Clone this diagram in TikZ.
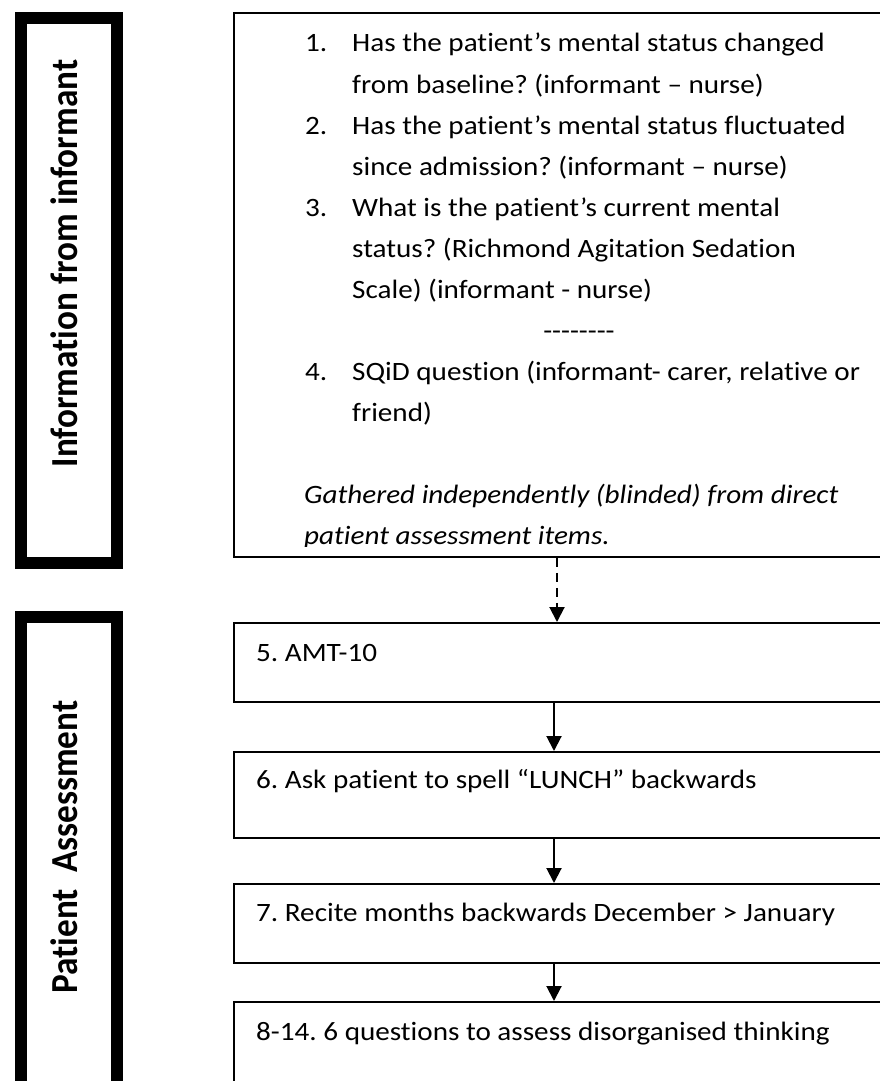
\documentclass[tikz,border=0pt]{standalone}
\usepackage{fontspec}
\usepackage{graphicx}
\setmainfont[Ligatures={TeX,NoCommon}]{Carlito}
\usetikzlibrary{arrows.meta}
\newcommand\hs[1]{\scalebox{1.1}[1]{#1}}
\newcommand\vs[1]{\scalebox{1}[1.086]{#1}}
\frenchspacing
\begin{document}
\begin{tikzpicture}[x=1pt,y=-1pt,
  sidebox/.style={draw, line width=12pt, rectangle, inner sep=0pt, anchor=north west},
  stepbox/.style={draw, line width=1.8pt, rectangle, inner sep=0pt, anchor=north west},
  txt/.style={anchor=base west, inner sep=0pt, font=\fontsize{26.5}{31}\selectfont},
  itxt/.style={txt, font=\fontsize{26.5}{31}\selectfont\itshape},
  lbl/.style={rotate=90, anchor=base, inner sep=0pt, font=\fontsize{35.2}{40}\selectfont\bfseries},
  arr/.style={line width=2pt, -{Triangle[width=15pt,length=15pt]}},
  darr/.style={arr, dash pattern=on 9pt off 6pt}]
\clip (0,0) rectangle (880,1081);
\fill[white] (0,0) rectangle (880,1081);

% side boxes
\node[sidebox, minimum width=96pt, minimum height=545pt] (side1) at (15,12) {};
\node[sidebox, minimum width=96pt, minimum height=472pt] (side2) at (15,611) {};
\node[lbl] (lab1) at (77,263.5) {\vs{Information from informant}};
\node[lbl] (lab2) at (77,847) {\vs{Patient\ \ Assessment}};

% informant box
\node[stepbox, minimum width=667pt, minimum height=544pt] (info) at (233,12) {};
\node[txt] (n1) at (305,52) {\hs{1.}};
\node[txt] (t1a) at (352,52) {\hs{Has the patient’s mental status changed}};
\node[txt] (t1b) at (352,93) {\hs{from baseline? (informant – nurse)}};
\node[txt] (n2) at (305,134) {\hs{2.}};
\node[txt] (t2a) at (352,134) {\hs{Has the patient’s mental status fluctuated}};
\node[txt] (t2b) at (352,175) {\hs{since admission? (informant – nurse)}};
\node[txt] (n3) at (305,216) {\hs{3.}};
\node[txt] (t3a) at (352,216) {\hs{What is the patient’s current mental}};
\node[txt] (t3b) at (352,257) {\hs{status? (Richmond Agitation Sedation}};
\node[txt] (t3c) at (352,298) {\hs{Scale) (informant - nurse)}};
\node[txt, anchor=base] (sep) at (579,339) {\hs{-{}-{}-{}-{}-{}-{}-{}-}};
\node[txt] (n4) at (305,380) {\hs{4.}};
\node[txt] (t4a) at (352,380) {\hs{SQiD question (informant- carer, relative or}};
\node[txt] (t4b) at (352,421) {\hs{friend)}};
\node[itxt] (g1) at (304,503) {\hs{Gathered independently (blinded) from direct}};
\begin{scope}
\clip (233,12) rectangle (900,546);
\node[itxt] (g2) at (304,544) {\hs{patient assessment items.}};
\end{scope}

% patient assessment boxes
\node[stepbox, minimum width=667pt, minimum height=79pt] (b5) at (233,622) {};
\node[stepbox, minimum width=667pt, minimum height=86pt] (b6) at (233,751) {};
\node[stepbox, minimum width=667pt, minimum height=79pt] (b7) at (233,883) {};
\node[stepbox, minimum width=667pt, minimum height=120pt] (b8) at (233,1001) {};
\node[txt] (s5) at (256,661) {\hs{5. AMT-10}};
\node[txt] (s6) at (256,788) {\hs{6. Ask patient to spell “LUNCH” backwards}};
\node[txt] (s7) at (256,921) {\hs{7. Recite months backwards December > January}};
\node[txt] (s8) at (256,1040) {\hs{8-14. 6 questions to assess disorganised thinking}};

% connectors
\coordinate (dx) at (557,0);
\coordinate (ax) at (554,0);
\draw[darr] (dx |- info.south) -- (dx |- b5.north);
\draw[arr] (ax |- b5.south) -- (ax |- b6.north);
\draw[arr] (ax |- b6.south) -- (ax |- b7.north);
\draw[arr] (ax |- b7.south) -- (ax |- b8.north);
\end{tikzpicture}
\end{document}
